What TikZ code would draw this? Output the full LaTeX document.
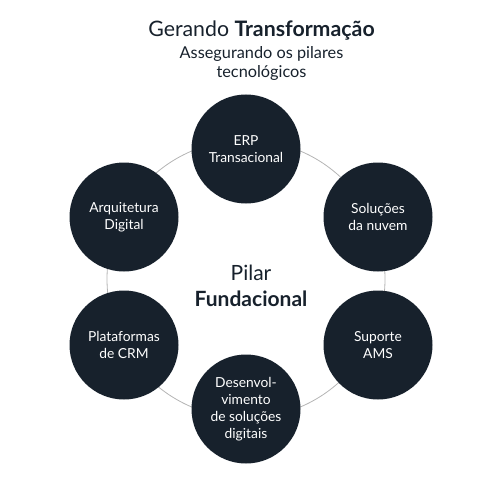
\documentclass[tikz,border=0pt]{standalone}
\usepackage{fontspec}
\setmainfont{Lato}
\usetikzlibrary{positioning}

\definecolor{azulEscuro}{HTML}{17212C}
\definecolor{cinzaAnel}{HTML}{B4B4B4}

\tikzset{
  pilar/.style={circle,fill=azulEscuro,draw=none,minimum size=109pt,inner sep=0pt,
    text=white,align=center,font=\fontsize{13.8}{16.8}\selectfont},
  anel/.style={draw=cinzaAnel,line width=0.8pt},
  titulo/.style={text=azulEscuro,align=center}
}

\begin{document}
\begin{tikzpicture}[x=1pt,y=-1pt]

\useasboundingbox (0,0) rectangle (500,500);

\coordinate (centro) at (246,279);
\draw[anel] (centro) circle (139);

% pilares
\node[pilar] (erp) at (246,149) {ERP\\Transacional}; %1
\node[pilar] (nuvem) at (378,217) {Soluções\\da nuvem}; %2
\node[pilar] (ams) at (378,345) {Suporte\\AMS}; %3
\node[pilar] (dev) at (246,409) {Desenvol-\\vimento\\de soluções\\digitais}; %4
\node[pilar] (crm) at (124,345) {Plataformas\\de CRM}; %5
\node[pilar] (arq) at (124,217) {Arquitetura\\Digital}; %6

% textos
\node[titulo,font=\fontsize{21.3}{22}\selectfont] (gerando) at (261.5,31) {Gerando \textbf{Transformação}};
\node[titulo,font=\fontsize{16.3}{18.5}\selectfont,below=-1pt of gerando] (assegurando) {Assegurando os pilares\\tecnológicos};
\node[titulo,font=\fontsize{21}{26}\selectfont] (fundacional) at (251,286) {Pilar\\\textbf{Fundacional}};

\end{tikzpicture}
\end{document}
